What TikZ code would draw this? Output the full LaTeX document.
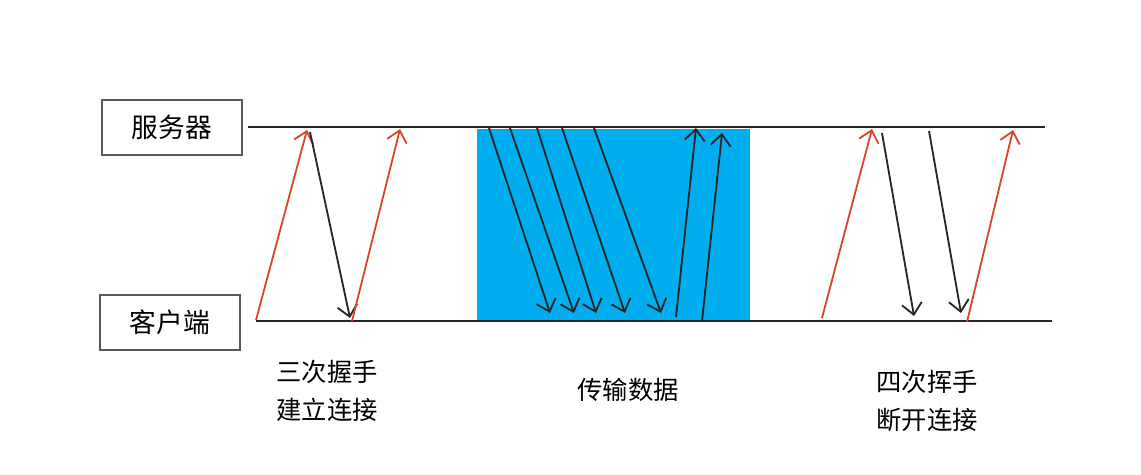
\documentclass[tikz,border=0pt]{standalone}
\usepackage{fontspec}
\newfontfamily\cjk{Noto Sans CJK SC}
\usetikzlibrary{arrows.meta,positioning}
\definecolor{synred}{HTML}{D9472B}
\definecolor{databg}{HTML}{00ADEF}
\definecolor{ackgray}{HTML}{262626}
\tikzset{
  x=0.025cm, y=-0.025cm,
  hostbox/.style={draw=black!65, line width=0.8pt, minimum width=3.5cm, minimum height=1.375cm,
    inner sep=0pt, font=\cjk\fontsize{19}{22}\selectfont},
  timeline/.style={line width=1.1pt, black!85},
  redarrow/.style={synred, line width=1.3pt, -{Straight Barb[length=2.8mm,width=5mm]}},
  blackarrow/.style={ackgray, line width=1.3pt, -{Straight Barb[length=2.8mm,width=5mm]}},
  caption/.style={font=\cjk\fontsize{18}{27}\selectfont, align=center, inner sep=0pt},
}
\begin{document}
\begin{tikzpicture}
\useasboundingbox (0,0) rectangle (1141,474);

% Hosts and time lines
\node[hostbox] (server) at (172,127.5) {服务器};
\node[hostbox] (client) at (170,322.5) {客户端};
\coordinate (sl) at (248,127);
\coordinate (sr) at (1045,127);
\coordinate (cl) at (256,321);
\coordinate (cr) at (1052,321);

% Data transfer area
\fill[databg] (477,129) rectangle (750,320);

\draw[timeline] (sl) -- (sr);
\draw[timeline] (cl) -- (cr);

% Three-way handshake
\coordinate (h1) at (256,320);
\coordinate (h2) at (307,130);
\coordinate (h3) at (310,132);
\coordinate (h4) at (350,318);
\coordinate (h5) at (352,321);
\coordinate (h6) at (400,129);
\draw[redarrow] (h1) -- (h2);
\draw[blackarrow] (h3) -- (h4);
\draw[redarrow] (h5) -- (h6);

% Data down / acks up
\foreach \a/\b [count=\i] in {489/550,510/574,537/596,562/625,594/661} {
  \coordinate (dt\i) at (\a,128);
  \coordinate (db\i) at (\b,313);
  \draw[blackarrow] (dt\i) -- (db\i);
}
\foreach \a/\b/\c/\d [count=\i] in {676/317/696/128,702/321/722/133} {
  \coordinate (ub\i) at (\a,\b);
  \coordinate (ut\i) at (\c,\d);
  \draw[blackarrow] (ub\i) -- (ut\i);
}

% Four-way teardown
\coordinate (f1) at (822,318);
\coordinate (f2) at (872,129);
\coordinate (f3) at (882,133);
\coordinate (f4) at (914,316);
\coordinate (f5) at (929,131);
\coordinate (f6) at (961,313);
\coordinate (f7) at (967,322);
\coordinate (f8) at (1013,130);
\draw[redarrow] (f1) -- (f2);
\draw[blackarrow] (f3) -- (f4);
\draw[blackarrow] (f5) -- (f6);
\draw[redarrow] (f7) -- (f8);

% Captions
\node[caption] (hscap) at (327,391) {三次握手\\建立连接};
\node[caption] (datacap) at (628,390) {传输数据};
\node[caption] (fincap) at (927,401) {四次挥手\\断开连接};
\end{tikzpicture}
\end{document}
